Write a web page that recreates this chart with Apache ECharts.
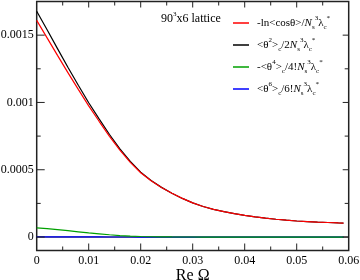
<!DOCTYPE html>
<html><head><meta charset="utf-8">
<script src="https://cdn.jsdelivr.net/npm/echarts@6/dist/echarts.min.js"></script>
<style>html,body{margin:0;padding:0;background:#fff}#c{width:360px;height:280px}</style>
</head><body><div id="c"></div>
<script>
var xs = [0,0.002,0.004,0.006,0.008,0.010,0.012,0.014,0.016,0.018,0.020,0.022,0.024,0.026,0.028,0.030,0.032,0.034,0.036,0.038,0.040,0.042,0.044,0.046,0.048,0.050,0.052,0.054,0.056,0.058,0.059];
var redVals = [0.001610,0.001480,0.001350,0.001222,0.001097,0.000975,0.000860,0.000748,0.000645,0.000555,0.000478,0.000418,0.000368,0.000325,0.000287,0.000254,0.000227,0.000206,0.000189,0.000174,0.000161,0.000150,0.000140,0.000132,0.000125,0.000119,0.000115,0.000111,0.000108,0.000105,0.000104];
var blackVals = [0.001678,0.001540,0.001400,0.001262,0.001128,0.000998,0.000878,0.000762,0.000655,0.000562,0.000482,0.000420,0.000369,0.000326,0.000287,0.000254,0.000227,0.000206,0.000189,0.000174,0.000161,0.000150,0.000140,0.000132,0.000125,0.000119,0.000115,0.000111,0.000108,0.000105,0.000104];
var greenVals = [0.000068,0.000062,0.000055,0.000047,0.000039,0.000031,0.000024,0.000017,0.000011,0.000007,0.000004,0.000002,0.000001,0.0000005,0.0000003,0.0000002,0.0000001,0,0,0,0,0,0,0,0,0,0,0,0,0,0];
var blueVals = [0.000002,0.0000018,0.0000015,0.0000012,0.000001,0.0000008,0.0000006,0.0000004,0.0000003,0.0000002,0.0000001,0,0,0,0,0,0,0,0,0,0,0,0,0,0,0,0,0,0,0,0];
var zeroLine = [[0,0],[0.06,0]];
var seriesNames = ['red','black','green','blue'];
var legendTexts = [
  '{t|-ln<cosθ>/}{i|N}{b|s}{p|3}{t|λ}{b|c}{p|*}',
  '{t|<θ}{p|2}{t|>}{b|c}{t|/2}{i|N}{b|s}{p|3}{t|λ}{b|c}{p|*}',
  '{t|-<θ}{p|4}{t|>}{b|c}{t|/4!}{i|N}{b|s}{p|3}{t|λ}{b|c}{p|*}',
  '{t|<θ}{p|6}{t|>}{b|c}{t|/6!}{i|N}{b|s}{p|3}{t|λ}{b|c}{p|*}'
];
var colors = ['#ff0000','#000000','#00a000','#0000ff'];
var xMin = 0, xMax = 0.06, xStep = 0.01;
var xMajor = [0.01,0.02,0.03,0.04,0.05];
var xMinor = [0.005,0.015,0.025,0.035,0.045,0.055];
var yMin = -0.0001, yMax = 0.00175;
var yMajor = [0, 0.0005, 0.001, 0.0015];
var yMajorLabels = ['0','0.0005','0.001','0.0015'];
var yMinor = [0.00025, 0.00075, 0.00125];
var latticeLabel = '{a|90}{s|3}{a|x6 lattice}';

var FONT = 'Liberation Serif';
var AX = '#222';
function pair(a){ return xs.map(function(x,i){ return [x, a[i]]; }); }

var rich = {
  t:{fontFamily:FONT, fontSize:11, color:'#000', lineHeight:16, verticalAlign:'middle'},
  i:{fontFamily:FONT, fontSize:11, fontStyle:'italic', color:'#000', lineHeight:16, verticalAlign:'middle'},
  p:{fontFamily:FONT, fontSize:7, color:'#000', lineHeight:16, verticalAlign:'top'},
  b:{fontFamily:FONT, fontSize:7, color:'#000', lineHeight:16, verticalAlign:'bottom'}
};
var chart = echarts.init(document.getElementById('c'), null, {renderer:'canvas'});
var series = [{name:'zero', type:'line', data:zeroLine, showSymbol:false, silent:true,
  lineStyle:{color:'#000', width:1}, itemStyle:{color:'#000'}}];
[3,2,1,0].forEach(function(k){
  var vals = [redVals, blackVals, greenVals, blueVals][k];
  series.push({name:seriesNames[k], type:'line', data:pair(vals), showSymbol:false, smooth:false,
    lineStyle:{color:colors[k], width:1.2}, itemStyle:{color:colors[k]}});
});
var latticeGraphic = {type:'text', left:161, top:11, style:{text:latticeLabel, rich:{
    a:{fontFamily:FONT, fontSize:12, fill:'#000', lineHeight:16, verticalAlign:'middle'},
    s:{fontFamily:FONT, fontSize:7, fill:'#000', lineHeight:16, verticalAlign:'top'}}}};
chart.setOption({
  animation:false,
  backgroundColor:'#fff',
  grid:{left:36.7, right:11.3, top:1.5, bottom:29.5, containLabel:false, outerBoundsMode:'none',
    show:true, borderColor:AX, borderWidth:1.5, backgroundColor:'transparent'},
  xAxis:{type:'value', min:xMin, max:xMax, interval:xStep,
    axisLine:{show:false, onZero:false}, axisTick:{show:false}, minorTick:{show:false},
    splitLine:{show:false},
    axisLabel:{color:'#000', fontFamily:FONT, fontSize:12, margin:4,
      formatter:function(v){ return String(+v.toFixed(3)); }},
    name:'Re Ω', nameLocation:'middle', nameGap:17, nameMoveOverlap:false,
    nameTextStyle:{color:'#000', fontFamily:FONT, fontSize:16}},
  yAxis:{type:'value', min:yMin, max:yMax,
    axisLine:{show:false, onZero:false}, axisTick:{show:false}, splitLine:{show:false},
    axisLabel:{customValues:yMajor, color:'#000', fontFamily:FONT, fontSize:12, margin:3,
      formatter:function(v){ var i = yMajor.indexOf(v); return i>=0 ? yMajorLabels[i] : ''; }}},
  legend:{data:seriesNames.map(function(n){return {name:n, icon:'rect'};}),
    orient:'vertical', left:228, top:10, itemWidth:16, itemHeight:1.5, itemGap:6,
    formatter:function(n){ return legendTexts[seriesNames.indexOf(n)]; },
    textStyle:{rich:rich, padding:[0,0,0,3]}, selectedMode:false},
  graphic:[latticeGraphic],
  series:series
});

// Frame ticks, positioned through the chart's own axis scales
function tick(v, side, len){
  var p1, p2, f = {gridIndex:0};
  if (side === 0){ p1 = chart.convertToPixel(f, [v, yMin]); p2 = [p1[0], p1[1]-len]; }
  else if (side === 1){ p1 = chart.convertToPixel(f, [v, yMax]); p2 = [p1[0], p1[1]+len]; }
  else if (side === 2){ p1 = chart.convertToPixel(f, [xMin, v]); p2 = [p1[0]+len, p1[1]]; }
  else { p1 = chart.convertToPixel(f, [xMax, v]); p2 = [p1[0]-len, p1[1]]; }
  return {type:'line', silent:true, z:100,
    shape:{x1:p1[0], y1:p1[1], x2:p2[0], y2:p2[1]}, style:{stroke:AX, lineWidth:1}};
}
var ticks = [];
xMajor.forEach(function(v){ ticks.push(tick(v,0,7), tick(v,1,6)); });
xMinor.forEach(function(v){ ticks.push(tick(v,0,4), tick(v,1,4)); });
yMajor.forEach(function(v){ ticks.push(tick(v,2,8), tick(v,3,6)); });
yMinor.forEach(function(v){ ticks.push(tick(v,2,4), tick(v,3,4)); });
chart.setOption({graphic:[latticeGraphic].concat(ticks)});
</script></body></html>
